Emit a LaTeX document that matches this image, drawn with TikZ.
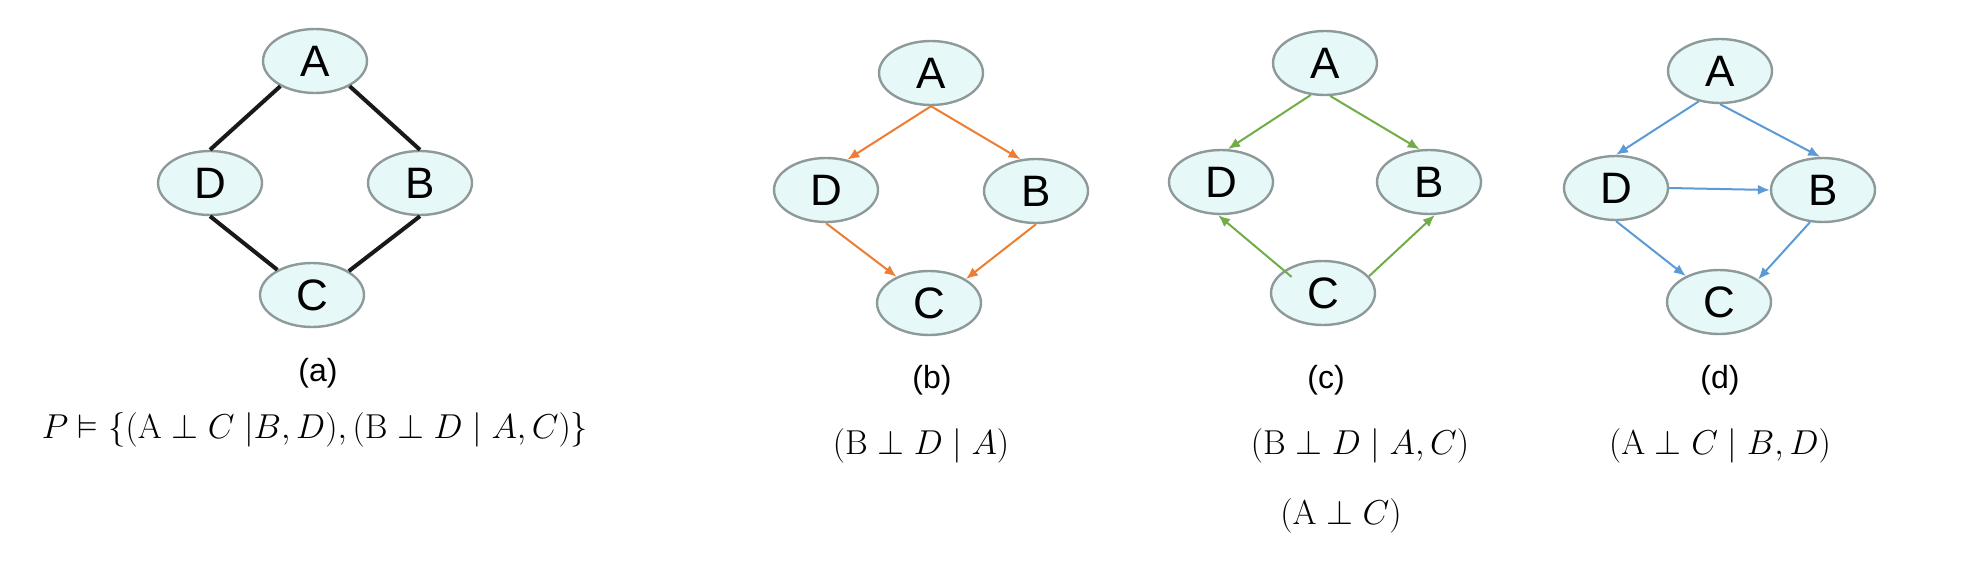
\documentclass[tikz,border=0pt]{standalone}
\usepackage[no-math]{fontspec}
\usepackage{amssymb}
\setmainfont{Liberation Sans}
\usetikzlibrary{shapes.geometric,arrows.meta}
\definecolor{nodefill}{HTML}{E6F8F8}
\definecolor{nodeline}{HTML}{8E9999}
\definecolor{orgline}{HTML}{ED7D31}
\definecolor{grnline}{HTML}{70AD47}
\definecolor{bluline}{HTML}{5B9BD5}
\begin{document}
\begin{tikzpicture}[x=0.5pt,y=-0.5pt,
    var/.style={ellipse,draw=nodeline,line width=1.2pt,fill=nodefill,minimum width=52pt,minimum height=32pt,inner sep=0pt,font=\fontsize{22}{22}\selectfont},
    sublabel/.style={font=\fontsize{16}{16}\selectfont},
    rel/.style={font=\fontsize{17}{17}\selectfont},
    undir/.style={line width=2pt,black!90},
    dir/.style={line width=1pt,-{Latex[length=6pt,width=5pt]}}]
    \useasboundingbox (0,0) rectangle (1974,578);
    % (a) Markov network
    \node[var] (aA) at (315,61) {A};
    \node[var] (aD) at (210,183) {D};
    \node[var] (aB) at (420,183) {B};
    \node[var] (aC) at (312,295) {C};
    \draw[undir] (aA.216) -- (aD.north);
    \draw[undir] (aA.324) -- (aB.north);
    \draw[undir] (aD.south) -- (aC.144);
    \draw[undir] (aB.south) -- (aC.33);
    \node[sublabel] (alab) at (318,373) {(a)};
    \node[rel] (arel) at (315,430) {$P \vDash \{(\mathrm{A} \perp C\;|B, D), (\mathrm{B} \perp D \mid A, C)\}$};
    % (b)
    \node[var] (bA) at (931,73) {A};
    \node[var] (bD) at (826,190) {D};
    \node[var] (bB) at (1036,191) {B};
    \node[var] (bC) at (929,303) {C};
    \draw[dir,orgline] (bA.south) -- (bD.55);
    \draw[dir,orgline] (bA.south) -- (bB.116);
    \draw[dir,orgline] (bD.south) -- (bC.141);
    \draw[dir,orgline] (bB.south) -- (bC.33);
    \node[sublabel] (blab) at (932,380) {(b)};
    \node[rel] (brel) at (921,446) {$(\mathrm{B} \perp D \mid A)$};
    % (c)
    \node[var] (cA) at (1325,63) {A};
    \node[var] (cD) at (1221,182) {D};
    \node[var] (cB) at (1429,182) {B};
    \node[var] (cC) at (1323,293) {C};
    \draw[dir,grnline] (cA.246) -- (cD.78);
    \draw[dir,grnline] (cA.279) -- (cB.106);
    \draw[dir,grnline,shorten <=-5pt] (cC.150) -- (cD.265);
    \draw[dir,grnline] (cC.20) -- (cB.280);
    \node[sublabel] (clab) at (1326,380) {(c)};
    \node[rel] (crel) at (1360,446) {$(\mathrm{B} \perp D \mid A, C)$};
    \node[rel] (crel2) at (1341,516) {$(\mathrm{A} \perp C)$};
    % (d)
    \node[var] (dA) at (1720,71) {A};
    \node[var] (dD) at (1616,188) {D};
    \node[var] (dB) at (1823,190) {B};
    \node[var] (dC) at (1719,302) {C};
    \draw[dir,bluline] (dA.235) -- (dD.north);
    \draw[dir,bluline] (dA.south) -- (dB.95);
    \draw[dir,bluline] (dD.east) -- (dB.west);
    \draw[dir,bluline] (dD.south) -- (dC.142);
    \draw[dir,bluline] (dB.248) -- (dC.30);
    \node[sublabel] (dlab) at (1720,380) {(d)};
    \node[rel] (drel) at (1720,446) {$(\mathrm{A} \perp C \mid B, D)$};
\end{tikzpicture}
\end{document}
